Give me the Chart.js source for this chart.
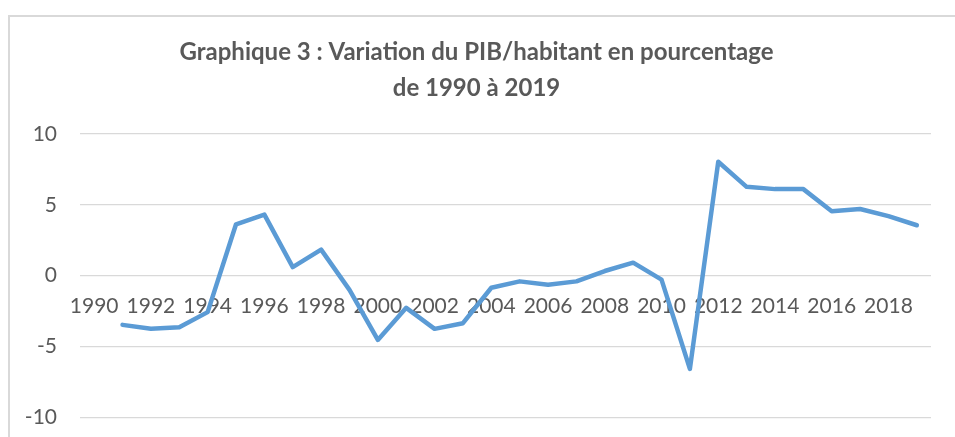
<!DOCTYPE html>
<html>
<head>
<meta charset="utf-8">
<script src="https://cdn.jsdelivr.net/npm/chart.js@4/dist/chart.umd.min.js"></script>
<style>
  html, body { margin: 0; padding: 0; background: #fff; overflow: hidden; }
  #wrap { position: relative; width: 955px; height: 437px; overflow: hidden; }
  #frame { position: absolute; left: 8px; top: 15px; width: 960px; height: 440px;
           border-left: 2px solid #d9d9d9; border-top: 2px solid #d9d9d9; pointer-events: none; }
</style>
</head>
<body>
<div id="wrap">
  <canvas id="graph-pib" width="955" height="453"></canvas>
  <div id="frame"></div>
</div>
<script>
  const years = [1990, 1991, 1992, 1993, 1994, 1995, 1996, 1997, 1998, 1999,
                 2000, 2001, 2002, 2003, 2004, 2005, 2006, 2007, 2008, 2009,
                 2010, 2011, 2012, 2013, 2014, 2015, 2016, 2017, 2018, 2019];
  const pibVariation = [null, -3.47, -3.75, -3.64, -2.57, 3.63, 4.31, 0.61, 1.84, -1.0,
                        -4.53, -2.27, -3.75, -3.35, -0.85, -0.40, -0.64, -0.40, 0.33, 0.92,
                        -0.28, -6.58, 8.04, 6.27, 6.11, 6.11, 4.55, 4.71, 4.20, 3.56];
  const yTicks = [-10, -5, 0, 5, 10];
  const titleLines = ['Graphique 3 : Variation du PIB/habitant en pourcentage', 'de 1990 à 2019'];

  const grey = '#595959';

  const data = {
    labels: years,
    datasets: [
      {
        label: 'Variation du PIB/habitant',
        data: pibVariation,
        borderColor: '#5b9bd5',
        backgroundColor: '#5b9bd5',
        borderWidth: 4.5,
        borderJoinStyle: 'round',
        borderCapStyle: 'round',
        pointRadius: 0,
        tension: 0,
        spanGaps: false
      }
    ]
  };

  const config = {
    type: 'line',
    data: data,
    options: {
      responsive: false,
      animation: false,
      layout: { padding: { left: 22, right: 24, top: 0, bottom: 4 } },
      plugins: {
        title: {
          display: true,
          text: titleLines,
          color: grey,
          font: { family: 'Lato', size: 24, weight: 'bold', lineHeight: 36 / 24 },
          padding: { top: 34, bottom: 28 }
        },
        legend: { display: false },
        tooltip: { enabled: false }
      },
      scales: {
        x: {
          type: 'category',
          position: { y: 0 },
          offset: true,
          grid: { display: false, drawTicks: false },
          border: { display: false },
          afterFit: (scale) => { scale.height = 0; },
          ticks: {
            autoSkip: false,
            maxRotation: 0,
            minRotation: 0,
            padding: 18,
            color: grey,
            font: { family: 'Lato', size: 21 },
            callback: (v, i) => (years[i] % 2 === 0 ? String(years[i]) : '')
          }
        },
        y: {
          min: -10,
          max: 10,
          afterBuildTicks: (scale) => { scale.ticks = yTicks.map(v => ({ value: v })); },
          afterFit: (scale) => { scale.width = 58; },
          grid: { color: '#d9d9d9', lineWidth: 1.3, drawTicks: false },
          border: { display: false },
          ticks: {
            padding: 23,
            color: grey,
            font: { family: 'Lato', size: 21 }
          }
        }
      }
    }
  };

  const ctx = document.getElementById('graph-pib').getContext('2d');
  new Chart(ctx, config);
</script>
</body>
</html>
